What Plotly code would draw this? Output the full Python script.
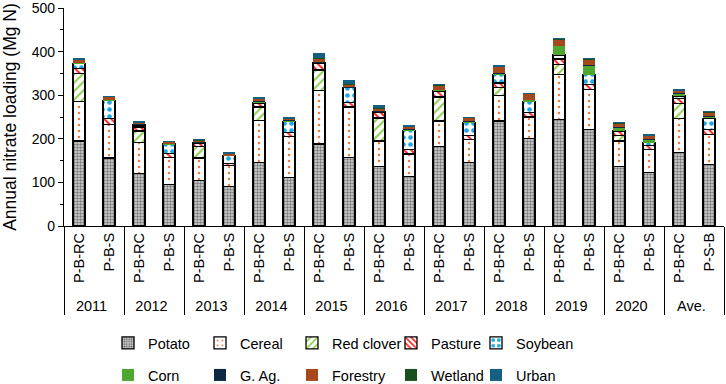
import plotly.graph_objects as go

years = ["2011", "2012", "2013", "2014", "2015", "2016", "2017", "2018", "2019", "2020", "Ave."]
rotations = ["P-B-RC", "P-B-S"] * 10 + ["P-B-RC", "P-S-B"]
year_cat = [y for y in years for _ in range(2)]

potato = [195, 156, 120, 95, 104, 91, 145, 112, 188, 157, 136, 114, 182, 146, 241, 201, 245, 222, 137, 123, 169, 141]
cereal = [90, 77, 72, 62, 52, 48, 97, 93, 122, 116, 59, 51, 59, 53, 59, 49, 102, 91, 58, 53, 78, 69]
red_clover = [64, None, 26, None, 26, None, 31, None, 48, None, 53, None, 55, None, 18, None, 23, None, 12, None, 34, None]
pasture = [13, 14, 9, 10, 7, 5, 9, 9, 15, 11, 12, 11, 13, 9, 10, 10, 13, 11, 10, 8, 11, 12]
soybean = [11, 41, 5, 21, 2, 17, 2, 25, 2, 33, 2, 43, 2, 29, 19, 26, 9, 23, 2, 7, 6, 25]
corn = [1, 1, 1, 1, 1, 1, 2, 2, 1, 1, 1, 2, 1, 3, 2, 3, 21, 21, 6, 8, 5, 5]
g_ag = [1, 1, 1, 0.5, 1, 0.5, 1, 1, 1, 1, 1, 1, 1, 1, 1, 1, 1, 1, 1, 1, 1, 1]
forestry = [7, 6, 4, 4, 4, 4, 6, 5, 7, 6, 6, 6, 10, 7, 15, 13, 14, 14, 10, 8, 7, 8]
wetland = [1, 0.5, 0.5, 0.5, 0.5, 0.5, 0.5, 0.5, 1, 1, 0.5, 0.5, 0.5, 0.5, 0.5, 0.5, 1, 0.5, 0.5, 0.5, 0.5, 0.5]
urban = [1, 0.5, 1, 0.5, 0.5, 0.5, 1, 2, 11, 10, 7, 4, 1, 0.5, 2, 1, 1, 1, 1, 1, 3, 1]

FONT = "Liberation Sans, Arial, sans-serif"

crop_series = [
    ("Potato", potato, dict(shape=".", size=3, solidity=0.5, fgcolor="#767676", bgcolor="#d9d9d9")),
    ("Cereal", cereal, dict(shape=".", size=6, solidity=0.14, fgcolor="#F07B3F", bgcolor="#ffffff")),
    ("Red clover", red_clover, dict(shape="/", size=6, solidity=0.35, fgcolor="#92D050", bgcolor="#ffffff")),
    ("Pasture", pasture, dict(shape="\\", size=5, solidity=0.4, fgcolor="#FF2020", bgcolor="#ffffff")),
    ("Soybean", soybean, dict(shape=".", size=7, solidity=0.35, fgcolor="#1EA7E8", bgcolor="#ffffff")),
]
other_series = [
    ("Corn", corn, "#4EA72E"),
    ("G. Ag.", g_ag, "#0E2841"),
    ("Forestry", forestry, "#A5481B"),
    ("Wetland", wetland, "#1A4F1F"),
    ("Urban", urban, "#156082"),
]
# per-column legend entry widths (px)
entry_widths = [47, 47, 54, 40, 80]

x = [year_cat, rotations]
fig = go.Figure()
for i, (name, vals, pat) in enumerate(crop_series):
    fig.add_trace(go.Bar(
        x=x, y=vals, name=name, legend="legend", legendwidth=entry_widths[i],
        marker=dict(color=pat["bgcolor"], pattern=pat,
                    line=dict(color="#000000", width=1.3)),
    ))
for i, (name, vals, col) in enumerate(other_series):
    fig.add_trace(go.Bar(
        x=x, y=vals, name=name, legend="legend2", legendwidth=entry_widths[i],
        marker=dict(color=col, line=dict(width=0)),
    ))

legend_common = dict(
    orientation="h", xref="container", yref="container",
    x=108 / 726, xanchor="left", yanchor="middle",
    font=dict(family=FONT, size=14.5, color="#000000"),
    bgcolor="rgba(0,0,0,0)", borderwidth=0, traceorder="normal",
)

fig.update_layout(
    template="none",
    width=726, height=384,
    margin=dict(l=64, r=2, t=8, b=158, autoexpand=False),
    paper_bgcolor="#ffffff", plot_bgcolor="#ffffff",
    barmode="stack", bargap=0.6,
    font=dict(family=FONT, color="#000000"),
    showlegend=True,
    legend=dict(legend_common, y=1 - 343 / 384),
    legend2=dict(legend_common, y=1 - 375 / 384),
)

fig.update_xaxes(
    type="multicategory",
    showline=True, linecolor="#000000", linewidth=1.3,
    showgrid=False, zeroline=False,
    ticks="outside", ticklen=8, tickcolor="rgba(0,0,0,0)",
    tickangle=-90,
    tickfont=dict(family=FONT, size=14.5, color="#000000"),
    showdividers=True, dividercolor="#000000", dividerwidth=1.3,
    automargin=False,
)
fig.update_yaxes(
    range=[0, 500], dtick=100, tick0=0,
    showline=True, linecolor="#000000", linewidth=1.3,
    showgrid=False, zeroline=False,
    ticks="outside", ticklen=5, tickcolor="#000000", tickwidth=1.2,
    ticklabeloverflow="allow",
    minor=dict(dtick=50, ticks="outside", ticklen=3, tickcolor="#000000", tickwidth=1.2, showgrid=False),
    tickfont=dict(family=FONT, size=14, color="#000000"),
    title=dict(text="Annual nitrate loading (Mg N)", font=dict(family=FONT, size=17.5, color="#000000"), standoff=15),
    automargin=False,
)

fig.write_html(
    "out.html",
    config={"displayModeBar": False},
    post_script="document.body.style.margin='0px';document.body.style.overflow='hidden';",
)
